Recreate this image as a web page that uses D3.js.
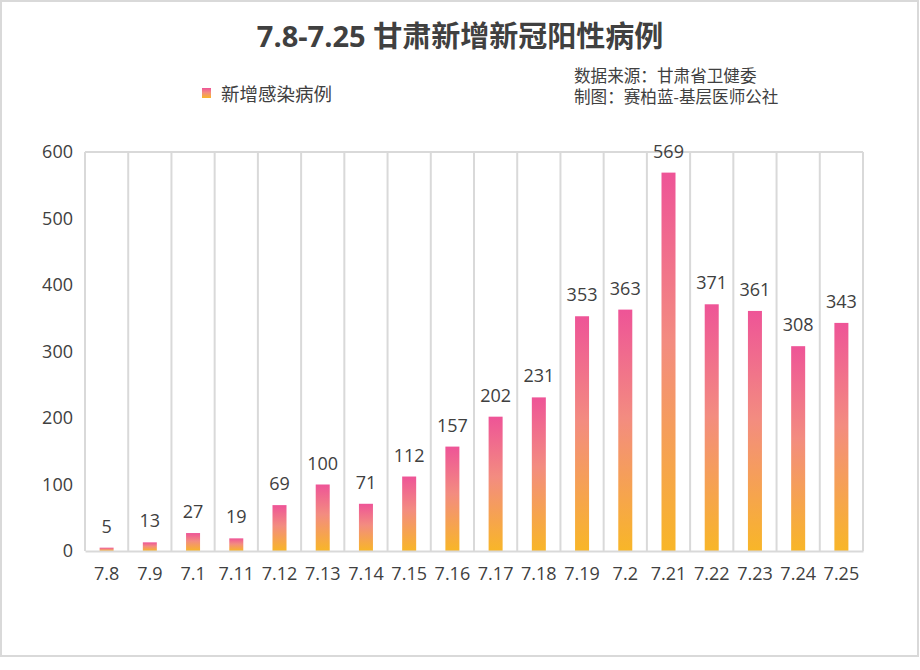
<!DOCTYPE html>
<html>
<head>
<meta charset="utf-8">
<script src="https://cdn.jsdelivr.net/npm/d3@7"></script>
<style>
  body { margin: 0; background: #fff; }
  text { font-family: "Open Sans", "Noto Sans CJK SC", sans-serif; fill: #333; }
</style>
</head>
<body>
<svg id="chart" width="920" height="670"></svg>
<script>
var categories = ["7.8", "7.9", "7.1", "7.11", "7.12", "7.13", "7.14", "7.15", "7.16",
                  "7.17", "7.18", "7.19", "7.2", "7.21", "7.22", "7.23", "7.24", "7.25"];
var newCases = [5, 13, 27, 19, 69, 100, 71, 112, 157, 202, 231, 353, 363, 569, 371, 361, 308, 343];
var yTicks = [0, 100, 200, 300, 400, 500, 600];

var svg = d3.select("#chart");
var W = 920, H = 670;
var margin = {left: 85, right: 57, top: 152, bottom: 119};
var plotW = W - margin.left - margin.right;
var plotH = H - margin.top - margin.bottom;

// outer frame
svg.append("rect")
    .attr("x", 1).attr("y", 1)
    .attr("width", 917).attr("height", 655)
    .attr("fill", "#fff")
    .attr("stroke", "#d9d9d9")
    .attr("stroke-width", 2);

// bar gradient, top pink to bottom orange
var grad = svg.append("defs").append("linearGradient")
    .attr("id", "barGrad")
    .attr("x1", 0).attr("y1", 0).attr("x2", 0).attr("y2", 1);
grad.append("stop").attr("offset", "0%").attr("stop-color", "#ee5497");
grad.append("stop").attr("offset", "45%").attr("stop-color", "#f38c80");
grad.append("stop").attr("offset", "100%").attr("stop-color", "#f8b628");

// title
svg.append("text")
    .attr("x", 460).attr("y", 47)
    .attr("text-anchor", "middle")
    .style("font-size", "29px")
    .style("font-weight", "bold")
    .style("fill", "#404040")
    .text("7.8-7.25 甘肃新增新冠阳性病例");

// legend
svg.append("rect")
    .attr("x", 202).attr("y", 88)
    .attr("width", 9).attr("height", 10)
    .attr("fill", "url(#barGrad)");
svg.append("text")
    .attr("x", 221).attr("y", 101)
    .style("font-size", "18.5px")
    .style("fill", "#404040")
    .text("新增感染病例");

// source note, two lines
var note = svg.append("text")
    .attr("x", 574).attr("y", 82)
    .style("font-size", "16.6px")
    .style("fill", "#404040");
note.append("tspan")
    .attr("x", 574).attr("dy", 0)
    .text("数据来源：甘肃省卫健委");
note.append("tspan")
    .attr("x", 574).attr("dy", 21)
    .text("制图：赛柏蓝-基层医师公社");

var g = svg.append("g")
    .attr("transform", "translate(" + margin.left + "," + margin.top + ")");

var x = d3.scaleBand()
    .domain(categories)
    .range([0, plotW])
    .paddingInner(0.676)
    .paddingOuter(0.338);

var y = d3.scaleLinear()
    .domain([0, 600])
    .range([plotH, 0]);

var step = plotW / categories.length;

// vertical grid at category boundaries
g.selectAll(".vgrid")
    .data(d3.range(categories.length + 1))
    .enter().append("line")
    .attr("class", "vgrid")
    .attr("x1", function (i) { return i * step; })
    .attr("x2", function (i) { return i * step; })
    .attr("y1", 0)
    .attr("y2", plotH)
    .attr("stroke", "#d9d9d9")
    .attr("stroke-width", 2);

// top border
g.append("line")
    .attr("x1", 0).attr("x2", plotW)
    .attr("y1", y(600)).attr("y2", y(600))
    .attr("stroke", "#d9d9d9")
    .attr("stroke-width", 2);

// y axis labels
var yAxis = g.append("g")
    .call(d3.axisLeft(y).tickValues(yTicks).tickSize(0).tickPadding(12));
yAxis.select(".domain").remove();
yAxis.selectAll("text")
    .style("font-size", "18px")
    .style("fill", "#404040")
    .attr("font-family", null);

// bars
g.selectAll(".bar")
    .data(newCases)
    .enter().append("rect")
    .attr("class", "bar")
    .attr("x", function (d, i) { return x(categories[i]); })
    .attr("y", function (d) { return y(d); })
    .attr("width", x.bandwidth())
    .attr("height", function (d) { return plotH - y(d); })
    .attr("fill", "url(#barGrad)");

// value labels
g.selectAll(".val")
    .data(newCases)
    .enter().append("text")
    .attr("class", "val")
    .attr("x", function (d, i) { return x(categories[i]) + x.bandwidth() / 2; })
    .attr("y", function (d) { return y(d) - 15; })
    .attr("text-anchor", "middle")
    .style("font-size", "18px")
    .style("fill", "#404040")
    .text(function (d) { return d; });

// x axis
var xAxis = g.append("g")
    .attr("transform", "translate(0," + plotH + ")")
    .call(d3.axisBottom(x).tickSize(0).tickPadding(16));
xAxis.select(".domain")
    .attr("stroke", "#d9d9d9")
    .attr("stroke-width", 2);
xAxis.selectAll("text")
    .style("font-size", "18px")
    .style("fill", "#404040")
    .attr("font-family", null);
</script>
</body>
</html>
